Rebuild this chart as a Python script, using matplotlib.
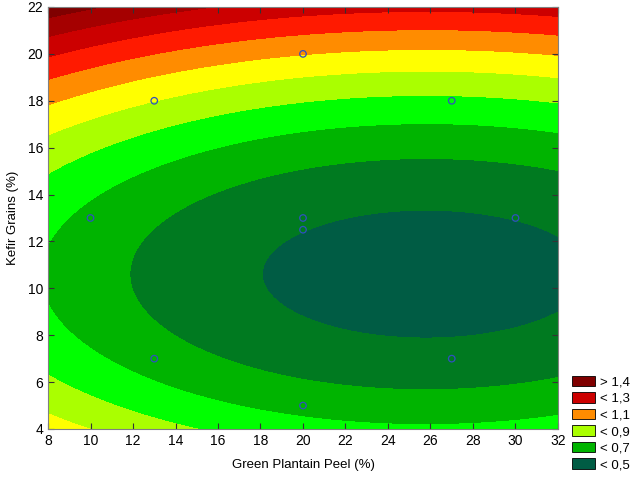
import numpy as np
import matplotlib
matplotlib.use('Agg')
import matplotlib.pyplot as plt
from matplotlib.patches import Patch

plt.rcParams['font.family'] = ['Liberation Sans', 'DejaVu Sans']

# design points (green plantain peel %, kefir grains %) and response
peel = [10, 13, 13, 20, 20, 20, 20, 27, 27, 30]
kefir = [13, 18, 7, 20, 13, 12.5, 5, 18, 7, 13]
resp = [0.675, 0.902, 0.654, 1.004, 0.515, 0.502, 0.667, 0.781, 0.534, 0.503]

levels = [0.5, 0.6, 0.7, 0.8, 0.9, 1.0, 1.1, 1.2, 1.3, 1.4]
band_colors = ['#005c44', '#007a20', '#00b400', '#00ff00', '#aaff00',
               '#ffff00', '#ff8c00', '#ff1a00', '#cc0000', '#a50000', '#7f0000']
legend_labels = ['> 1,4', '< 1,3', '< 1,1', '< 0,9', '< 0,7', '< 0,5']
legend_colors = ['#7f0000', '#cc0000', '#ff8c00', '#aaff00', '#00b400', '#005c44']

# quadratic response surface fitted to the design points
x = np.array(peel, dtype=float)
y = np.array(kefir, dtype=float)
X = np.column_stack([np.ones_like(x), x, y, x**2, y**2, x*y])
coef = np.linalg.lstsq(X, np.array(resp), rcond=None)[0]

gx, gy = np.meshgrid(np.linspace(8, 32, 400), np.linspace(4, 22, 400))
gz = (coef[0] + coef[1]*gx + coef[2]*gy + coef[3]*gx**2 + coef[4]*gy**2
      + coef[5]*gx*gy)

fig = plt.figure(figsize=(6.3, 4.79), dpi=100)
ax = fig.add_axes([0.0762, 0.1044, 0.8095, 0.881])
lv = [min(gz.min(), 0) - 1] + levels + [gz.max() + 1]
ax.contourf(gx, gy, gz, levels=lv, colors=band_colors)
ax.scatter(peel, kefir, s=22, facecolors='none', edgecolors='#3050c0', linewidths=0.9, zorder=3)

ax.set_xlim(8, 32)
ax.set_ylim(4, 22)
ax.set_xticks(range(8, 33, 2))
ax.set_yticks(range(4, 23, 2))
ax.tick_params(direction='in', top=True, right=True, length=4, labelsize=10, color='#333333')
for s in ax.spines.values():
    s.set_color('#808080')
ax.set_xlabel('Green Plantain Peel (%)', fontsize=9.5, labelpad=8)
ax.set_ylabel('Kefir Grains (%)', fontsize=9.5, labelpad=6)

handles = [Patch(facecolor=c, edgecolor='black', linewidth=0.6) for c in legend_colors]
fig.legend(handles, legend_labels, loc='lower left', bbox_to_anchor=(0.895, 0.0),
           frameon=False, fontsize=9.5, handlelength=1.75, handleheight=0.85,
           handletextpad=0.4, labelspacing=0.28, borderaxespad=0.3, borderpad=0.3)

fig.savefig('out.png', dpi=100)
